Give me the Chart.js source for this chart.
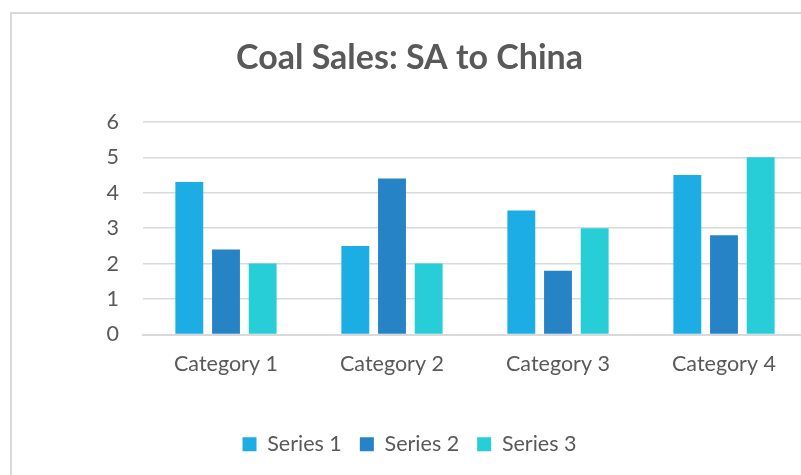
<!DOCTYPE html>
<html>
<head>
<meta charset="utf-8">
<script src="https://cdn.jsdelivr.net/npm/chart.js@4"></script>
<style>
  html, body { margin: 0; padding: 0; background: #fff; overflow: hidden; }
  #box {
    position: absolute; left: 10px; top: 12px;
    width: 804px; height: 484px;
    border: 2px solid #d9d9d9; box-sizing: border-box;
  }
  canvas { display: block; }
</style>
</head>
<body>
<div id="box"><canvas id="myChart" width="800" height="470"></canvas></div>
<script>
// du lieu bieu do
var categories = ["Category 1", "Category 2", "Category 3", "Category 4"];
var series1 = [4.3, 2.5, 3.5, 4.5];
var series2 = [2.4, 4.4, 1.8, 2.8];
var series3 = [2, 2, 3, 5];
var seriesNames = ["Series 1", "Series 2", "Series 3"];
var yTicks = [0, 1, 2, 3, 4, 5, 6];

var textColor = "#595959";
var fontName = "Lato, 'Open Sans', sans-serif";

var totalChart = new Chart("myChart", {
    type: "bar",
    data: {
        labels: categories,
        datasets: [
            { label: seriesNames[0], data: series1, backgroundColor: "#1CADE4" },
            { label: seriesNames[1], data: series2, backgroundColor: "#2683C6" },
            { label: seriesNames[2], data: series3, backgroundColor: "#27CED7" }
        ]
    },
    options: {
        responsive: false,
        animation: false,
        categoryPercentage: 0.663,
        barPercentage: 0.76,
        layout: { padding: { left: 0, right: 5, top: 0, bottom: 19 } },
        plugins: {
            title: {
                display: true,
                text: "Coal Sales: SA to China",
                color: textColor,
                font: { family: fontName, size: 34, weight: "bold" },
                padding: { top: 24, bottom: 43 }
            },
            legend: {
                position: "bottom",
                labels: {
                    color: textColor,
                    font: { family: fontName, size: 21.5 },
                    boxWidth: 14,
                    boxHeight: 14,
                    padding: 18
                }
            },
            tooltip: { enabled: false }
        },
        scales: {
            x: {
                grid: { display: false },
                border: { display: true, color: "#d9d9d9", width: 2 },
                ticks: { color: textColor, font: { family: fontName, size: 21.5 }, padding: 9 },
                afterFit: function (scale) { scale.height = 81; }
            },
            y: {
                min: 0,
                max: 6,
                afterBuildTicks: function (scale) {
                    scale.ticks = yTicks.map(function (v) { return { value: v }; });
                },
                grid: { color: "#d9d9d9", lineWidth: 1.5, drawTicks: false },
                border: { display: false },
                ticks: { color: textColor, font: { family: fontName, size: 21.5 }, padding: 24 },
                afterFit: function (scale) { scale.width = 131; }
            }
        }
    }
});
</script>
</body>
</html>
